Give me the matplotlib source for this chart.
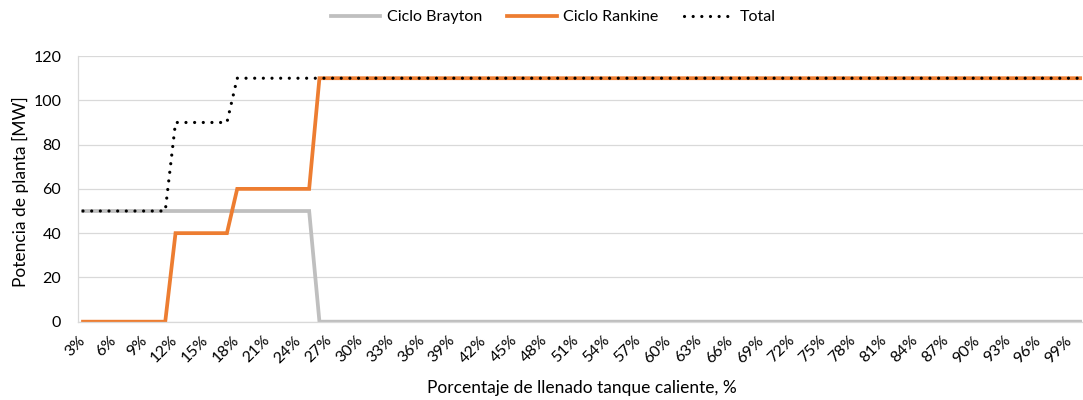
import matplotlib
matplotlib.use("Agg")
import matplotlib.pyplot as plt
import numpy as np

plt.rcParams['font.family'] = ['Lato', 'DejaVu Sans']

# nivel de llenado del tanque caliente, 3% .. 100%
pct = list(range(3, 101))

# potencia por ciclo [MW]
brayton = [50] * 23 + [0] * 75                          # 3..25 -> 50, 26..100 -> 0
rankine = [0] * 9 + [40] * 6 + [60] * 8 + [110] * 75   # saltos en 12, 18 y 26
total = [50] * 9 + [90] * 6 + [110] * 83

labels = ['%d%%' % p for p in pct]

fig = plt.figure(figsize=(10.83, 4.0), dpi=100)
ax = fig.add_axes([0.0719, 0.1958, 0.9302, 0.664])

x = np.arange(len(pct))
ax.plot(x, brayton, color='#bfbfbf', lw=2.7, label='Ciclo Brayton', solid_joinstyle='miter')
ax.plot(x, rankine, color='#ed7d31', lw=2.7, label='Ciclo Rankine', solid_joinstyle='miter')
ax.plot(x, total, color='black', lw=2.3, linestyle=(0, (0.01, 2.7)),
        dash_capstyle='round', label='Total')

ax.set_xlim(-0.5, len(pct) - 0.5)
ax.set_ylim(0, 120)
ax.set_yticks(np.arange(0, 121, 20))
ax.grid(axis='y', color='#d9d9d9', lw=0.9)
ax.set_axisbelow(True)

# etiquetas cada 3 categorias, giradas 45 grados
ax.set_xticks(x[::3])
ax.set_xticklabels(labels[::3], rotation=45, ha='right', va='center',
                   rotation_mode='anchor')
ax.tick_params(axis='x', length=0, pad=12, labelsize=11.5)
ax.tick_params(axis='y', length=0, pad=12, labelsize=11.5)

for s in ['top', 'right']:
    ax.spines[s].set_visible(False)
ax.spines['left'].set_color('#d9d9d9')
ax.spines['bottom'].set_color('#d9d9d9')
ax.spines['left'].set_linewidth(0.9)
ax.spines['bottom'].set_linewidth(0.9)

fig.text(0.537, 0.03, 'Porcentaje de llenado tanque caliente, %', ha='center',
         va='center', fontsize=12.5)
fig.text(0.019, 0.522, 'Potencia de planta [MW]', ha='center', va='center',
         rotation=90, fontsize=12.5)

fig.legend(loc='center', bbox_to_anchor=(0.511, 0.957), ncol=3, frameon=False,
           fontsize=11.5, handlelength=3.1, columnspacing=1.6, handletextpad=0.4)

plt.savefig('out.png', dpi=100)
